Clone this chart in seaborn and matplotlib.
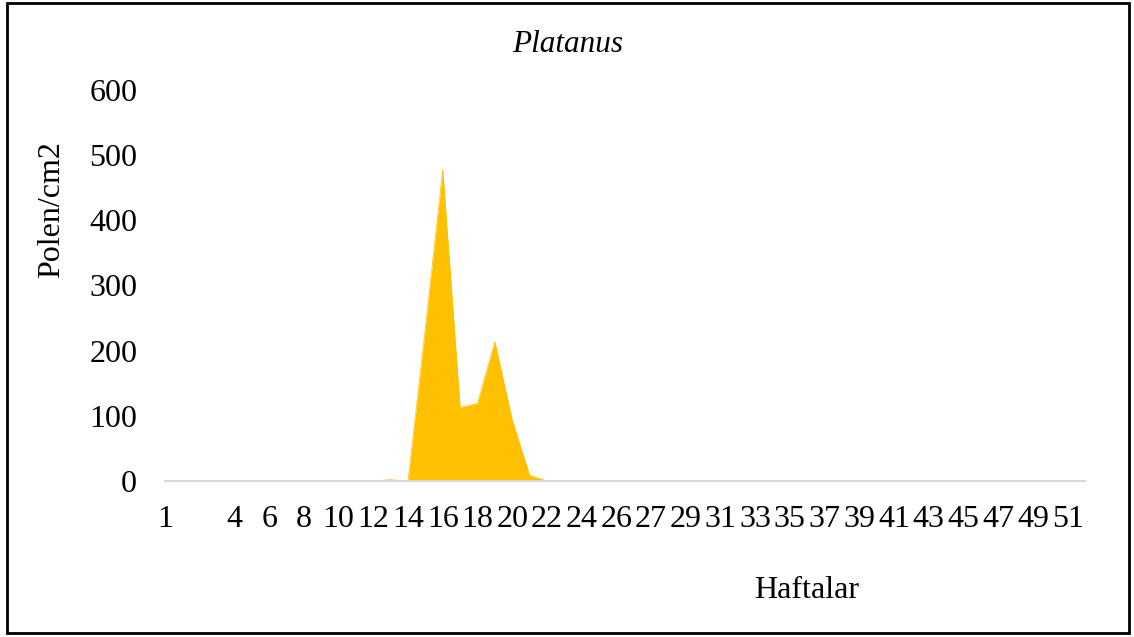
import numpy as np
import pandas as pd
import seaborn as sns
import matplotlib
matplotlib.use('Agg')
import matplotlib.pyplot as plt
from matplotlib.patches import Rectangle

# week labels as they sit on the category axis (54 categories)
week_labels = ['1', '2', '', '3', '4', '5', '6', '7', '8', '9', '10', '11', '12', '13',
               '14', '15', '16', '17', '18', '19', '20', '21', '22', '23', '24', '25',
               '26', '26', '27', '28', '29', '30', '31', '32', '33', '34', '35', '36',
               '37', '38', '39', '40', '41', '42', '43', '44', '45', '46', '47', '48',
               '49', '50', '51', '52']
# pollen counts
pollen = [0, 0, 0, 0, 0, 0, 0, 0, 0, 0, 0, 0, 0, 2,
          0, 235, 478, 113, 119, 214, 94, 9, 0, 0, 0, 0,
          0, 0, 0, 0, 0, 0, 0, 0, 0, 0, 0, 0,
          0, 0, 0, 0, 0, 0, 0, 0, 0, 0, 0, 0,
          0, 0, 0, 0]

df = pd.DataFrame({'pos': np.arange(len(week_labels)), 'week': week_labels, 'polen': pollen})

sns.set_theme(style='white')
plt.rcParams['font.family'] = ['Liberation Serif', 'DejaVu Serif']
plt.rcParams['text.color'] = 'black'
plt.rcParams['xtick.color'] = 'black'
plt.rcParams['ytick.color'] = 'black'

fig = plt.figure(figsize=(11.34, 6.37), dpi=100)
ax = fig.add_axes([165 / 1134, 1 - 481 / 637, 920 / 1134, 391 / 637])

gold = '#FFC000'
sns.lineplot(data=df, x='pos', y='polen', color=gold, linewidth=0.5, ax=ax)
ax.fill_between(df['pos'], df['polen'], color=gold, linewidth=0)

ax.set_xlim(0, len(week_labels) - 1)
ax.set_ylim(0, 600)
ax.set_yticks(range(0, 601, 100))
ax.set_yticklabels([str(v) for v in range(0, 601, 100)], fontsize=23)
ax.set_xticks(df['pos'][::2])
ax.set_xticklabels(df['week'][::2], fontsize=23)
ax.tick_params(axis='y', length=0, pad=20)
ax.tick_params(axis='x', length=0, pad=17)
for s in ['top', 'right', 'left']:
    ax.spines[s].set_visible(False)
ax.spines['bottom'].set_color('#d9d9d9')
ax.spines['bottom'].set_linewidth(1.5)
ax.set_xlabel('')
ax.set_ylabel('')

fig.text(568 / 1134, 1 - 44 / 637, 'Platanus', fontsize=22.5, style='italic',
         ha='center', va='center')
fig.text(52 / 1134, 1 - 210 / 637, 'Polen/cm2', fontsize=23, rotation=90,
         ha='center', va='center')
fig.text(807 / 1134, 1 - 591 / 637, 'Haftalar', fontsize=23,
         ha='center', va='center')

# outer chart frame
fig.patches.append(Rectangle((7 / 1134, 4 / 637), 1122 / 1134, 630 / 637,
                             transform=fig.transFigure, fill=False,
                             edgecolor='black', linewidth=2))

fig.savefig('out.png', dpi=100)
